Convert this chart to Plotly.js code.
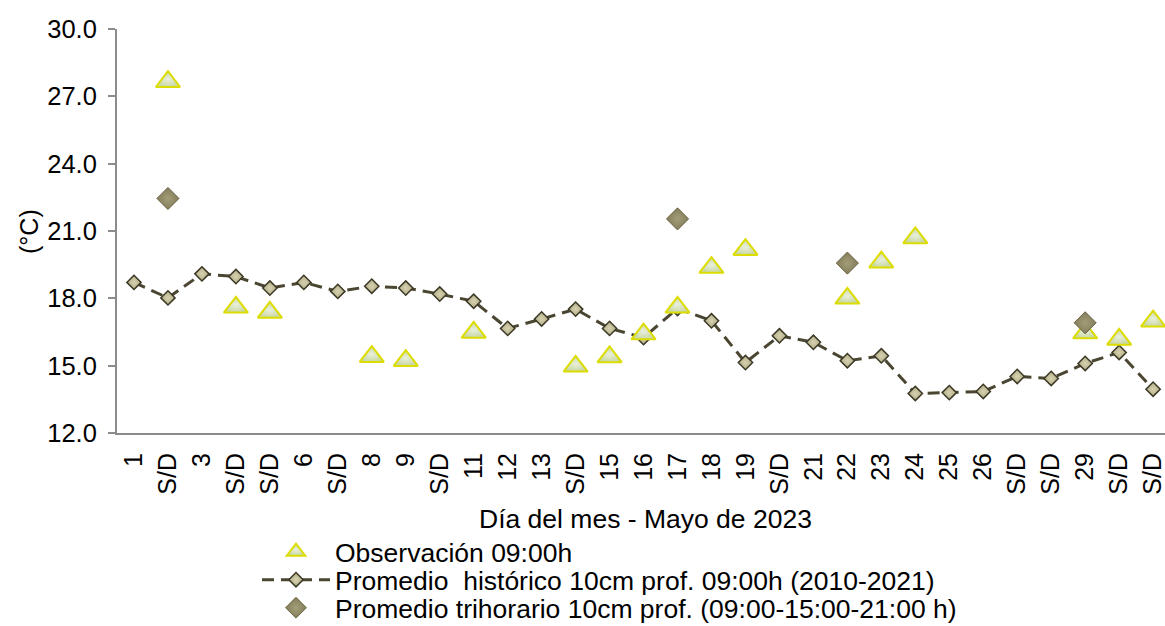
<!DOCTYPE html>
<html>
<head>
<meta charset="utf-8">
<script src="https://cdn.plot.ly/plotly-3.0.1.min.js"></script>
<style>html,body{margin:0;padding:0;background:#fff;}#chart{width:1165px;height:626px;}</style>
</head>
<body>
<div id="chart"></div>
<script>
// Day positions (1..31) and their tick labels
const days = [1,2,3,4,5,6,7,8,9,10,11,12,13,14,15,16,17,18,19,20,21,22,23,24,25,26,27,28,29,30,31];
const tickLabels = ["1","S/D","3","S/D","S/D","6","S/D","8","9","S/D","11","12","13","S/D","15","16","17","18","19","S/D","21","22","23","24","25","26","S/D","S/D","29","S/D","S/D"];

// Observación 09:00h (null = no observation)
const obs09 = [null,27.65,null,17.6,17.37,null,null,15.4,15.22,null,16.48,null,null,14.97,15.39,16.41,17.6,19.37,20.17,null,null,18.0,19.61,20.69,null,null,null,null,16.45,16.17,16.98];

// Promedio histórico 10cm prof. 09:00h (2010-2021)
const hist09 = [18.71,18.02,19.09,18.97,18.46,18.71,18.31,18.54,18.46,18.19,17.87,16.66,17.08,17.52,16.66,16.25,17.55,17.0,15.14,16.33,16.04,15.22,15.44,13.76,13.8,13.85,14.52,14.43,15.1,15.59,13.95];

// Promedio trihorario 10cm prof. (09:00-15:00-21:00 h)
const tri = [null,22.45,null,null,null,null,null,null,null,null,null,null,null,null,null,null,21.54,null,null,null,null,19.57,null,null,null,null,null,null,16.91,null,null];

const FONT = "'Liberation Sans', Arial, sans-serif";

const traces = [
  {
    x: days, y: hist09, type: 'scatter', mode: 'lines+markers',
    name: 'Promedio  histórico 10cm prof. 09:00h (2010-2021)',
    legend: 'legend2',
    line: {color: '#4a4631', width: 3, dash: '12px,7px'},
    marker: {symbol: 'diamond', size: 11, color: '#b3ad86', line: {color: '#3b3826', width: 1.5},
             gradient: {type: 'radial', color: '#d6d1b0'}},
    cliponaxis: false
  },
  {
    x: days, y: obs09, type: 'scatter', mode: 'markers',
    name: 'Observación 09:00h',
    legend: 'legend',
    marker: {symbol: 'triangle-up', size: 21, color: '#c9d8a4', line: {color: '#dcdc00', width: 2},
             gradient: {type: 'radial', color: '#e9efdc'}},
    cliponaxis: false
  },
  {
    x: days, y: tri, type: 'scatter', mode: 'markers',
    name: 'Promedio trihorario 10cm prof. (09:00-15:00-21:00 h)',
    legend: 'legend3',
    marker: {symbol: 'diamond', size: 17, color: '#837d5a', line: {color: '#6a6446', width: 1},
             gradient: {type: 'radial', color: '#a39d7a'}},
    cliponaxis: false
  }
];

const W = 1165, H = 626;
const legBase = {
  xref: 'container', yref: 'container',
  xanchor: 'left', yanchor: 'middle', bgcolor: 'rgba(0,0,0,0)', borderwidth: 0, itemwidth: 68,
  font: {family: FONT, size: 26.5, color: '#000'}, itemclick: false, itemdoubleclick: false
};
function px2x(p){ return (p - 117) / 1048; }
function py2y(p){ return (433 - p) / 404; }
function cx(p){ return p / W; }
function cy(p){ return 1 - p / H; }

const layout = {
  width: W, height: H,
  margin: {l: 117, r: 0, t: 29, b: 193, pad: 0, autoexpand: false},
  paper_bgcolor: '#fff', plot_bgcolor: '#fff',
  font: {family: FONT, size: 25, color: '#000'},
  showlegend: true,
  xaxis: {
    range: [0.5, 31.35], tickmode: 'array', tickvals: days, ticktext: tickLabels,
    tickangle: -90, tickfont: {family: FONT, size: 25, color: '#000'},
    showgrid: false, zeroline: false, showline: true, linecolor: '#8c8c8c', linewidth: 2,
    ticks: '', ticklabelstandoff: 8, ticklabeloverflow: 'allow', automargin: false, fixedrange: true
  },
  yaxis: {
    range: [12, 30], tickmode: 'linear', tick0: 12, dtick: 3, tickformat: '.1f',
    tickfont: {family: FONT, size: 25.5, color: '#000'},
    showgrid: false, zeroline: false, showline: true, linecolor: '#8c8c8c', linewidth: 2,
    ticks: 'outside', ticklen: 7, tickcolor: '#8c8c8c', tickwidth: 2, ticklabelstandoff: 6,
    automargin: false, fixedrange: true
  },
  legend: Object.assign({}, legBase, {x: cx(257), y: cy(552)}),
  legend2: Object.assign({}, legBase, {x: cx(257), y: cy(580)}),
  legend3: Object.assign({}, legBase, {x: cx(257), y: cy(608)}),
  annotations: [
    {
      text: 'Día del mes - Mayo de 2023', xref: 'paper', yref: 'paper',
      x: px2x(645), y: py2y(519), xanchor: 'center', yanchor: 'middle', showarrow: false,
      font: {family: FONT, size: 26.5, color: '#000'}
    },
    {
      text: '(°C)', xref: 'paper', yref: 'paper', textangle: -90,
      x: px2x(29), y: py2y(232), xanchor: 'center', yanchor: 'middle', showarrow: false,
      font: {family: FONT, size: 25, color: '#000'}
    }
  ]
};

Plotly.newPlot('chart', traces, layout, {displayModeBar: false, staticPlot: true});
</script>
</body>
</html>
